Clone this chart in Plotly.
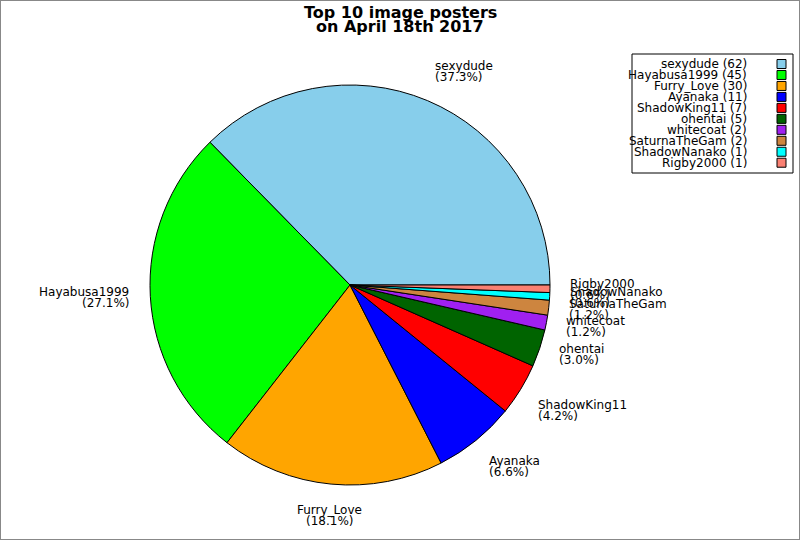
import math
import plotly.graph_objects as go

names = ["sexydude", "Hayabusa1999", "Furry_Love", "Ayanaka", "ShadowKing11",
         "ohentai", "whitecoat", "SaturnaTheGam", "ShadowNanako", "Rigby2000"]
counts = [62, 45, 30, 11, 7, 5, 2, 2, 1, 1]
colors = ["#87CEEB", "#00FF00", "#FFA500", "#0000FF", "#FF0000",
          "#006400", "#A020F0", "#CD853F", "#00FFFF", "#FA8072"]
title_lines = ["Top 10 image posters", "on April 18th 2017"]

W, H = 800, 540
CX, CY, R = 350, 285, 200   # pie centre / radius in pixels
FONT = "DejaVu Sans"

def px(x):
    return x / W

def py(y):
    return 1 - y / H

total = sum(counts)
# plotly's counterclockwise mode puts the first slice clockwise of `rotation`;
# shift so the first slice starts at 3 o'clock and runs counterclockwise
rot = 90 - 360.0 * counts[0] / total

fig = go.Figure()
fig.add_trace(go.Pie(
    labels=names, values=counts, sort=False,
    direction="counterclockwise", rotation=rot,
    marker=dict(colors=colors, line=dict(color="black", width=1)),
    textinfo="none", hoverinfo="label+value+percent", showlegend=False,
    domain=dict(x=[px(CX - R), px(CX + R)], y=[py(CY + R), py(CY - R)]),
))

annotations = []
shapes = []

# slice labels
cum = 0
LH = 11
for name, c in zip(names, counts):
    frac = c / total
    mid = (cum + frac / 2) * 2 * math.pi
    cum += frac
    cs, sn = math.cos(mid), math.sin(mid)
    lx = CX + 1.1 * R * cs
    ly = CY - 1.1 * R * sn
    if cs > 0.2:
        xa = "left"
        lx -= 2
    elif cs < -0.2:
        xa = "right"
        lx += 1
    else:
        xa = "center"
    if sn > 0.45:
        top = ly - 2 * LH
    elif sn < -0.45:
        top = ly
    else:
        top = ly - LH
    lines = [name, "(%.1f%%)" % (100 * frac)]
    for k, t in enumerate(lines):
        annotations.append(dict(
            x=px(lx), y=py(top + LH * k + LH / 2), xref="paper", yref="paper",
            text=t, showarrow=False, xanchor=xa, yanchor="middle", align=xa,
            font=dict(family=FONT, size=12, color="black"),
        ))

# title
for k, t in enumerate(title_lines):
    annotations.append(dict(
        x=0.5, y=py(12.5 + 14 * k), xref="paper", yref="paper", text="<b>%s</b>" % t,
        showarrow=False, xanchor="center", yanchor="middle",
        font=dict(family=FONT, size=16, color="black"),
    ))

# custom legend (text right, swatch at right)
ROW0, ROWH = 64, 10.97
for i, (name, c, col) in enumerate(zip(names, counts, colors)):
    yc = ROW0 + ROWH * i
    annotations.append(dict(
        x=px(749), y=py(yc), xref="paper", yref="paper",
        text="%s (%d)" % (name, c), showarrow=False, xanchor="right", yanchor="middle",
        font=dict(family=FONT, size=12, color="black"),
    ))
    shapes.append(dict(type="rect", xref="paper", yref="paper",
                       x0=px(777), x1=px(786), y0=py(yc - 4.5), y1=py(yc + 4.5),
                       fillcolor=col, line=dict(color="black", width=1)))
shapes.append(dict(type="rect", xref="paper", yref="paper",
                   x0=px(632), x1=px(793), y0=py(173), y1=py(54),
                   line=dict(color="black", width=1), fillcolor="rgba(0,0,0,0)"))
# image frame
shapes.append(dict(type="rect", xref="paper", yref="paper", x0=0, x1=1, y0=0, y1=1,
                   line=dict(color="#888888", width=2), fillcolor="rgba(0,0,0,0)"))

fig.update_layout(
    width=W, height=H, margin=dict(l=0, r=0, t=0, b=0),
    paper_bgcolor="white", plot_bgcolor="white",
    annotations=annotations, shapes=shapes,
    font=dict(family=FONT, size=12, color="black"),
)
fig.write_html("out.html", config={"displayModeBar": False},
               post_script="document.body.style.margin='0';document.body.style.overflow='hidden';")
